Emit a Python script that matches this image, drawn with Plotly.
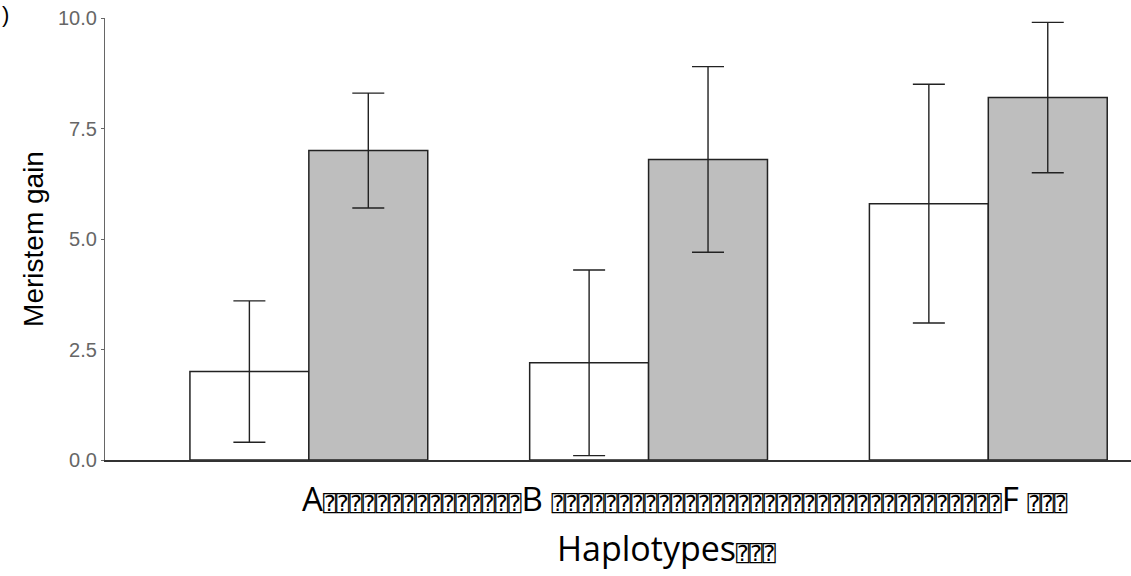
import plotly.graph_objects as go

haplotypes = ["A", "B", "F"]
white_vals = [2.0, 2.2, 5.8]
white_err = [1.6, 2.1, 2.7]
gray_vals = [7.0, 6.8, 8.2]
gray_err = [1.3, 2.1, 1.7]
y_ticks = [0, 2.5, 5, 7.5, 10]
y_ticklabels = ["0.0", "2.5", "5.0", "7.5", "10.0"]
y_title = "Meristem gain"
x_title = "Haplotypes"
tofu = "\u2370"


def tofu_run(n):
    return '<span style="font-family:DejaVu Sans Mono;font-size:22px">' + tofu * n + "</span>"


x_line = "A" + tofu_run(15) + "B " + tofu_run(34) + "F " + tofu_run(3)
x_title_line = x_title + tofu_run(3)

fig = go.Figure()
err_style = dict(type="data", visible=True, color="#222222", thickness=1.4, width=16)
fig.add_trace(go.Bar(x=haplotypes, y=white_vals, name="white",
                     marker=dict(color="white", line=dict(color="#222222", width=1.5)),
                     error_y=dict(array=white_err, **err_style)))
fig.add_trace(go.Bar(x=haplotypes, y=gray_vals, name="gray",
                     marker=dict(color="#bebebe", line=dict(color="#222222", width=1.5)),
                     error_y=dict(array=gray_err, **err_style)))

fig.update_layout(
    width=1131, height=576, barmode="group", bargap=0.3, bargroupgap=0,
    margin=dict(l=105, r=0, t=18, b=116),
    paper_bgcolor="white", plot_bgcolor="white", showlegend=False,
    font=dict(family="Liberation Sans, Arial", color="#666666", size=20),
)
fig.update_xaxes(range=[-0.6, 2.42], showticklabels=False, ticks="",
                 showline=True, linecolor="#333333", linewidth=1.5, showgrid=False, zeroline=False)
fig.update_yaxes(range=[0, 10], tickvals=y_ticks, ticktext=y_ticklabels,
                 ticks="outside", ticklen=3, tickcolor="#666666",
                 showline=True, linecolor="#666666", linewidth=1.2, showgrid=False, zeroline=False,
                 title=dict(text=y_title, font=dict(color="black", size=28), standoff=6))

fig.add_annotation(text=x_line, xref="paper", yref="paper", x=0.19, xanchor="left", y=-0.142,
                   showarrow=False, font=dict(family="Open Sans", size=33, color="black"))
fig.add_annotation(text=x_title_line, xref="paper", yref="paper", x=0.439, xanchor="left", y=-0.255,
                   showarrow=False, font=dict(family="Open Sans", size=34, color="black"))
fig.add_annotation(text=")", xref="paper", yref="paper", x=0.0, xanchor="left", y=1.04,
                   xshift=-105, showarrow=False, font=dict(family="Liberation Sans", size=22, color="black"))

fig.write_html("out.html")
